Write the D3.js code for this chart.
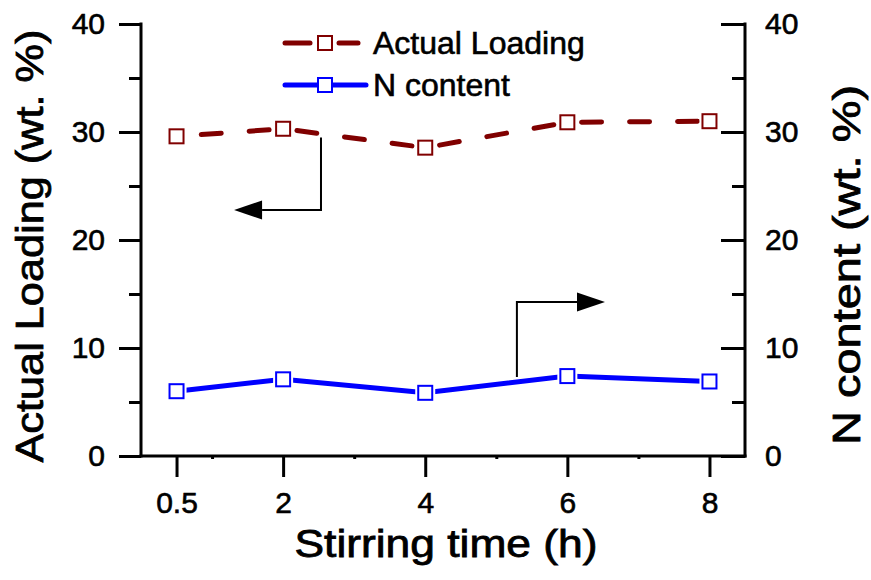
<!DOCTYPE html>
<html>
<head>
<meta charset="utf-8">
<script src="https://cdn.jsdelivr.net/npm/d3@7"></script>
<style>
  html, body { margin: 0; padding: 0; background: #fff; }
  svg { display: block; font-family: "Liberation Sans", Arial, Helvetica, sans-serif; }
  text { stroke: #000; stroke-width: 0.6px; }
</style>
</head>
<body>
<svg id="chart" width="871" height="580"></svg>
<script>
// ---- data ----
const stirringTime = [0.5, 2, 4, 6, 8];
const actualLoading = [29.6, 30.3, 28.55, 30.9, 31.0];
const nContent = [6.0, 7.1, 5.85, 7.4, 6.9];
const xTickValues = [0.5, 2, 4, 6, 8];
const xMinorTicks = [1, 3, 5, 7];
const yTickValues = [0, 10, 20, 30, 40];
const yMinorTicks = [5, 15, 25, 35];
const seriesNames = ["Actual Loading", "N content"];
const xTitle = "Stirring time (h)";
const yLeftTitle = "Actual Loading (wt. %)";
const yRightTitle = "N content (wt. %)";
// annotation arrows in data units: [x, y] vertices, last point is arrow tip
const arrowLeft = [[2.533, 29.5], [2.533, 22.78], [1.31, 22.78]];
const arrowRight = [[5.29, 7.31], [5.29, 14.26], [6.53, 14.26]];

(function () {
// ---- layout ----
const svg = d3.select("#chart");
const pL = 141, pR = 745, pT = 24, pB = 456;
const x = d3.scaleLinear().domain([0, 8.5]).range([pL, pR]);
const yL = d3.scaleLinear().domain([0, 40]).range([pB, pT]);
const yR = d3.scaleLinear().domain([0, 40]).range([pB, pT]);

const RED = "#800000", BLUE = "#0000ff";

function styleAxis(g) {
  g.selectAll(".domain").remove();
  g.selectAll("line").attr("stroke", "#000").attr("stroke-width", 3);
  g.selectAll("text").attr("fill", "#000").style("font-family", "'Liberation Sans', Arial, sans-serif");
}

// left axis
const gL = svg.append("g").attr("transform", `translate(${pL},0)`);
gL.call(d3.axisLeft(yL).tickValues(yTickValues).tickSize(22).tickPadding(14).tickFormat(d3.format("d")))
  .call(styleAxis);
gL.selectAll("text").attr("font-size", 30).attr("dy", "0.33em");
gL.append("g").call(d3.axisLeft(yL).tickValues(yMinorTicks).tickSize(12).tickFormat(""))
  .call(styleAxis);
gL.append("line").attr("x1", 0).attr("x2", 0).attr("y1", pT - 1.5).attr("y2", pB + 1.5)
  .attr("stroke", "#000").attr("stroke-width", 3);

// right axis (ticks inward)
const gR = svg.append("g").attr("transform", `translate(${pR},0)`);
gR.call(d3.axisRight(yR).tickValues(yTickValues).tickSize(-24).tickPadding(0).tickFormat(d3.format("d")))
  .call(styleAxis);
gR.selectAll("text").attr("font-size", 30).attr("x", 20).attr("dy", "0.33em");
gR.append("g").call(d3.axisRight(yR).tickValues(yMinorTicks).tickSize(-13).tickFormat(""))
  .call(styleAxis);
gR.append("line").attr("x1", 0).attr("x2", 0).attr("y1", pT - 1.5).attr("y2", pB + 1.5)
  .attr("stroke", "#000").attr("stroke-width", 3);

// bottom axis
const gB = svg.append("g").attr("transform", `translate(0,${pB})`);
gB.call(d3.axisBottom(x).tickValues(xTickValues).tickSize(21).tickPadding(15).tickFormat(d3.format("")))
  .call(styleAxis);
gB.selectAll("text").attr("font-size", 30);
gB.append("g").call(d3.axisBottom(x).tickValues(xMinorTicks).tickSize(3).tickFormat(""))
  .call(styleAxis);
gB.append("line").attr("x1", pL - 1.5).attr("x2", pR + 1.5).attr("y1", 0).attr("y2", 0)
  .attr("stroke", "#000").attr("stroke-width", 3);

// axis titles
svg.append("text").attr("x", (pL + pR) / 2 + 3).attr("y", 557)
  .attr("text-anchor", "middle").attr("font-size", 38).style("stroke-width", "0.8px")
  .attr("textLength", 303).attr("lengthAdjust", "spacingAndGlyphs")
  .text(xTitle);
svg.append("text").attr("transform", "translate(43,246) rotate(-90)")
  .attr("text-anchor", "middle").attr("font-size", 39).style("stroke-width", "0.8px")
  .attr("textLength", 433).attr("lengthAdjust", "spacingAndGlyphs")
  .text(yLeftTitle);
svg.append("text").attr("transform", "translate(860,265) rotate(-90)")
  .attr("text-anchor", "middle").attr("font-size", 39).style("stroke-width", "0.8px")
  .attr("textLength", 360).attr("lengthAdjust", "spacingAndGlyphs")
  .text(yRightTitle);

// series lines
const lineL = d3.line().x((d, i) => x(stirringTime[i])).y(d => yL(d));
const lineR = d3.line().x((d, i) => x(stirringTime[i])).y(d => yR(d));

svg.append("path").datum(actualLoading).attr("d", lineL)
  .attr("fill", "none").attr("stroke", RED).attr("stroke-width", 5)
  .attr("stroke-linecap", "round").attr("stroke-dasharray", "20,28").attr("stroke-dashoffset", 23.2);
svg.append("path").datum(nContent).attr("d", lineR)
  .attr("fill", "none").attr("stroke", BLUE).attr("stroke-width", 5)
  .attr("stroke-linecap", "round");

// arrows
function drawArrow(pts, yS) {
  const p = pts.map(d => [x(d[0]), yS(d[1])]);
  const tip = p[p.length - 1], prev = p[p.length - 2];
  const dx = tip[0] - prev[0], dy = tip[1] - prev[1];
  const len = Math.hypot(dx, dy), ux = dx / len, uy = dy / len;
  const hl = 28, hw = 9.5;
  const base = [tip[0] - ux * hl, tip[1] - uy * hl];
  const linePts = p.slice(0, -1).concat([base]);
  svg.append("path").attr("d", d3.line()(linePts)).attr("fill", "none")
    .attr("stroke", "#000").attr("stroke-width", 2);
  svg.append("path").attr("d", d3.line()([
      tip,
      [base[0] - uy * hw, base[1] + ux * hw],
      [base[0] + uy * hw, base[1] - ux * hw]
    ]) + "Z").attr("fill", "#000");
}
drawArrow(arrowLeft, yL);
drawArrow(arrowRight, yR);

// markers (with white halo to create gaps in the line)
function markers(vals, yS, color) {
  const g = svg.append("g");
  g.selectAll("rect.halo").data(vals).join("rect").attr("class", "halo")
    .attr("x", (d, i) => x(stirringTime[i]) - 10).attr("y", d => yS(d) - 10)
    .attr("width", 20).attr("height", 20).attr("fill", "#fff");
  g.selectAll("rect.mk").data(vals).join("rect").attr("class", "mk")
    .attr("x", (d, i) => x(stirringTime[i]) - 7).attr("y", d => yS(d) - 7)
    .attr("width", 14).attr("height", 14).attr("fill", "#fff")
    .attr("stroke", color).attr("stroke-width", 2);
}
markers(actualLoading, yL, RED);
markers(nContent, yR, BLUE);

// legend
const legend = svg.append("g");
const legItems = [
  { name: seriesNames[0], color: RED, y: 43, segs: [[285, 310], [339, 358]] },
  { name: seriesNames[1], color: BLUE, y: 85, segs: [[285, 318], [333, 366]] }
];
legItems.forEach(it => {
  it.segs.forEach(s => {
    legend.append("line").attr("x1", s[0]).attr("x2", s[1]).attr("y1", it.y).attr("y2", it.y)
      .attr("stroke", it.color).attr("stroke-width", 5).attr("stroke-linecap", "round");
  });
  legend.append("rect").attr("x", 325 - 7).attr("y", it.y - 7).attr("width", 14).attr("height", 14)
    .attr("fill", "#fff").attr("stroke", it.color).attr("stroke-width", 2);
  legend.append("text").attr("x", 373).attr("y", it.y + 11).attr("font-size", 32)
    .attr("fill", "#000").text(it.name);
});
})();
</script>
</body>
</html>
